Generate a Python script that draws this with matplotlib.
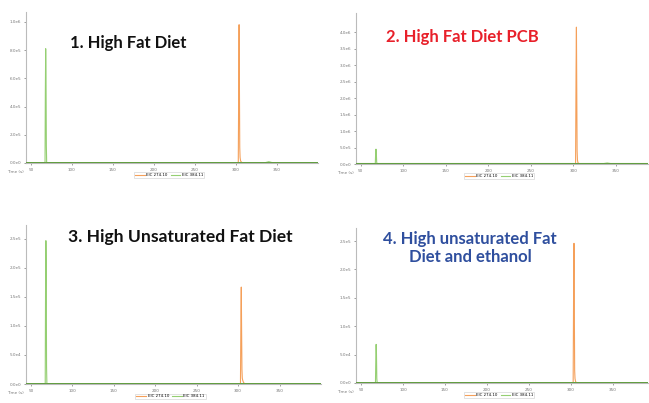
import matplotlib
matplotlib.use("Agg")
import matplotlib.pyplot as plt

W, H = 649, 403

# ---- data ----
titles = ["1. High Fat Diet", "2. High Fat Diet PCB",
          "3. High Unsaturated Fat Diet", "4. High unsaturated Fat\nDiet and ethanol"]
title_colors = ["#111111", "#E8202A", "#111111", "#2F4F9E"]
series_labels = ["EIC 274.10", "EIC 384.11"]
x_ticks = [50, 100, 150, 200, 250, 300, 350]

# green trace (times, intensities)
green_t = [44, 67.2, 67.6, 68.0, 68.4, 68.8, 69.2, 120, 200, 280, 336, 340, 344, 400]
green_y = {
    0: [3e3, 3e3, 5.0e5, 8.1e5, 6.0e5, 1.2e5, 3e3, 3e3, 3e3, 3e3, 3e3, 9e3, 3e3, 3e3],
    1: [1.5e4, 1.5e4, 3.0e5, 4.5e5, 3.5e5, 6e4, 1.5e4, 1.5e4, 1.5e4, 1.5e4, 1.5e4, 3e4, 1.5e4, 1.5e4],
    2: [600, 600, 1.6e5, 2.47e5, 2.0e5, 3e4, 600, 600, 600, 600, 600, 600, 600, 600],
    3: [600, 600, 4.0e4, 6.8e4, 5.0e4, 8e3, 600, 600, 600, 600, 600, 600, 600, 600],
}
# orange trace (times, intensities)
orange_t = [44, 302.8, 303.4, 303.8, 304.2, 304.6, 305.0, 305.6, 306.4, 308, 400]
orange_y = {
    0: [0, 0, 6.0e5, 9.8e5, 5.5e5, 1.1e5, 4e4, 1.5e4, 8e3, 0, 0],
    1: [0, 0, 2.9e6, 4.15e6, 2.2e6, 4e5, 1.2e5, 4e4, 2e4, 0, 0],
    2: [0, 0, 1.2e5, 1.67e5, 9e4, 2.5e4, 1e4, 6e3, 3e3, 0, 0],
    3: [0, 0, 1.8e5, 2.46e5, 1.3e5, 2.2e4, 8e3, 3e3, 1e3, 0, 0],
}
y_ticks = {
    0: [0, 2e5, 4e5, 6e5, 8e5, 1e6],
    1: [0, 5e5, 1e6, 1.5e6, 2e6, 2.5e6, 3e6, 3.5e6, 4e6],
    2: [0, 5e4, 1e5, 1.5e5, 2e5, 2.5e5],
    3: [0, 5e4, 1e5, 1.5e5, 2e5, 2.5e5],
}
y_top = {0: 1.07e6, 1: 4.58e6, 2: 2.74e5, 3: 2.73e5}
x_range = {0: (44, 400), 1: (44.5, 388), 2: (44, 400), 3: (44, 392)}

# ---- layout (pixel boxes: left, top, right, bottom) ----
boxes = {0: (26, 12, 318, 163), 1: (356, 13, 648, 164),
         2: (26, 225, 321, 384), 3: (356, 228, 648, 383)}
title_pos = {0: (128, 43), 1: (462, 37), 2: (180, 237), 3: (470, 248)}
title_size = {0: 12, 1: 12, 2: 12.6, 3: 12}

fig = plt.figure(figsize=(W / 100, H / 100), dpi=100)
fig.patch.set_facecolor("white")

orange = "#F5A05A"
green = "#95CF72"
base_green = "#4E9A3A"
grey = "#BBBBBB"

for i in range(4):
    l, t, r, b = boxes[i]
    ax = fig.add_axes([l / W, 1 - b / H, (r - l) / W, (b - t) / H])
    ax.plot(green_t, green_y[i], color=green, lw=0.8, label=series_labels[1], zorder=2)
    ax.plot(orange_t, orange_y[i], color=orange, lw=0.8, label=series_labels[0], zorder=3)
    ax.axhline(0, color=base_green, lw=1.2, zorder=4)
    ax.set_xlim(*x_range[i])
    ax.set_ylim(0, y_top[i])
    for s in ["top", "right"]:
        ax.spines[s].set_visible(False)
    for s in ["left", "bottom"]:
        ax.spines[s].set_color(grey)
        ax.spines[s].set_linewidth(0.8)
    ax.set_xticks(x_ticks)
    ax.set_xticklabels([str(v) for v in x_ticks])
    ax.set_yticks(y_ticks[i])
    ax.set_yticklabels([("%.1e" % v).replace("e+0", "e").replace("e+", "e") for v in y_ticks[i]])
    ax.tick_params(axis="both", labelsize=3, colors="#777777", length=1.5, width=0.5, pad=2)
    ax.set_facecolor("white")
    ax.text(-0.008, -0.045, "Time (s)", transform=ax.transAxes, fontsize=3,
            color="#777777", ha="right", va="top")
    handles, labels = ax.get_legend_handles_labels()
    leg = ax.legend(handles[::-1], labels[::-1], loc="upper center",
                    bbox_to_anchor=(0.49, -0.055), ncol=2, fontsize=2.8,
                    frameon=True, handlelength=2.5, columnspacing=0.8,
                    borderpad=0.25, handletextpad=0.4, fancybox=False,
                    borderaxespad=0.2)
    leg.get_frame().set_edgecolor("#CCCCCC")
    leg.get_frame().set_linewidth(0.5)
    tx, ty = title_pos[i]
    fig.text(tx / W, 1 - ty / H, titles[i], fontsize=title_size[i], fontweight="bold",
             family="Lato", color=title_colors[i], ha="center", va="center",
             linespacing=1.2)

fig.savefig("out.png", dpi=100, facecolor="white")
